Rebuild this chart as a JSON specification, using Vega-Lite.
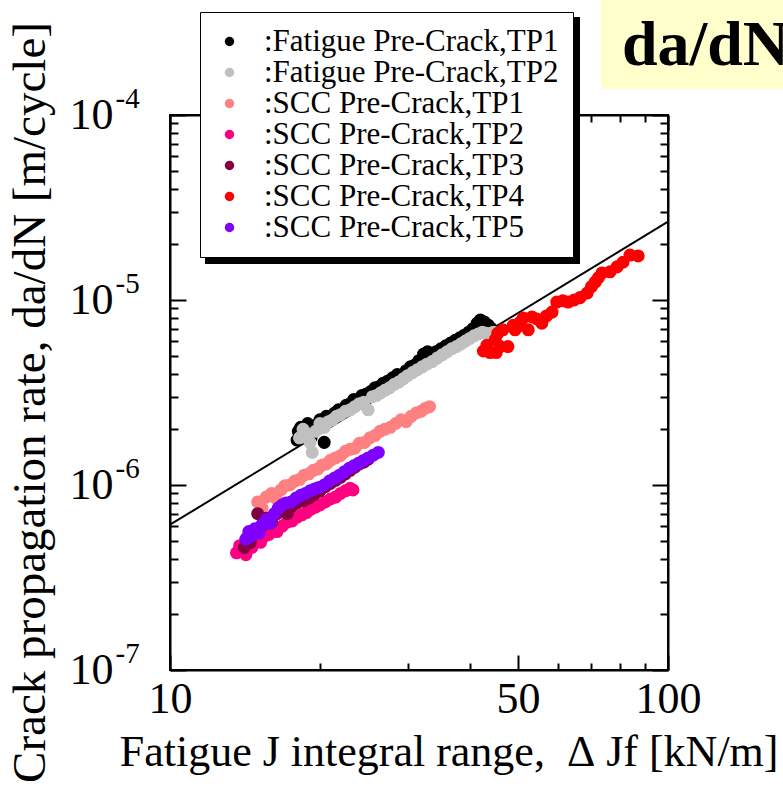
{
  "$schema": "https://vega.github.io/schema/vega-lite/v6.json",
  "width": 498,
  "height": 555,
  "autosize": {"type": "none"},
  "padding": {"left": 170, "top": 115, "right": 115, "bottom": 128},
  "background": "white",
  "config": {
    "view": {"stroke": "black", "strokeWidth": 2},
    "font": "Liberation Serif",
    "axis": {"grid": false, "domainColor": "black", "domainWidth": 2, "tickColor": "black", "tickWidth": 2, "labelColor": "black", "titleColor": "black", "labelFont": "Liberation Serif", "titleFont": "Liberation Serif", "titleFontWeight": "normal", "labelOverlap": false, "labelBound": false, "labelFlush": false},
    "legend": {"labelFont": "Liberation Serif"}
  },
  "datasets": {
    "fit": [{"J": 10, "dadN": 6.1e-7}, {"J": 100, "dadN": 2.65e-5}],
    "pts": [
      {"J": 18.0, "dadN": 1.75e-6, "s": ":Fatigue Pre-Crack,TP1"},
      {"J": 18.1, "dadN": 1.95e-6, "s": ":Fatigue Pre-Crack,TP1"},
      {"J": 18.3, "dadN": 2.05e-6, "s": ":Fatigue Pre-Crack,TP1"},
      {"J": 18.6, "dadN": 1.85e-6, "s": ":Fatigue Pre-Crack,TP1"},
      {"J": 18.9, "dadN": 2.15e-6, "s": ":Fatigue Pre-Crack,TP1"},
      {"J": 19.2, "dadN": 1.80e-6, "s": ":Fatigue Pre-Crack,TP1"},
      {"J": 19.6, "dadN": 2.10e-6, "s": ":Fatigue Pre-Crack,TP1"},
      {"J": 20.0, "dadN": 2.25e-6, "s": ":Fatigue Pre-Crack,TP1"},
      {"J": 20.4, "dadN": 1.70e-6, "s": ":Fatigue Pre-Crack,TP1"},
      {"J": 20.6, "dadN": 2.35e-6, "s": ":Fatigue Pre-Crack,TP1"},
      {"J": 21.0, "dadN": 2.30e-6, "s": ":Fatigue Pre-Crack,TP1"},
      {"J": 21.4, "dadN": 2.45e-6, "s": ":Fatigue Pre-Crack,TP1"},
      {"J": 21.8, "dadN": 2.55e-6, "s": ":Fatigue Pre-Crack,TP1"},
      {"J": 22.2, "dadN": 2.55e-6, "s": ":Fatigue Pre-Crack,TP1"},
      {"J": 22.6, "dadN": 2.70e-6, "s": ":Fatigue Pre-Crack,TP1"},
      {"J": 23.0, "dadN": 2.75e-6, "s": ":Fatigue Pre-Crack,TP1"},
      {"J": 23.4, "dadN": 2.90e-6, "s": ":Fatigue Pre-Crack,TP1"},
      {"J": 23.8, "dadN": 2.85e-6, "s": ":Fatigue Pre-Crack,TP1"},
      {"J": 24.3, "dadN": 3.05e-6, "s": ":Fatigue Pre-Crack,TP1"},
      {"J": 24.8, "dadN": 3.10e-6, "s": ":Fatigue Pre-Crack,TP1"},
      {"J": 25.3, "dadN": 3.20e-6, "s": ":Fatigue Pre-Crack,TP1"},
      {"J": 25.8, "dadN": 3.35e-6, "s": ":Fatigue Pre-Crack,TP1"},
      {"J": 26.3, "dadN": 3.40e-6, "s": ":Fatigue Pre-Crack,TP1"},
      {"J": 26.8, "dadN": 3.55e-6, "s": ":Fatigue Pre-Crack,TP1"},
      {"J": 27.4, "dadN": 3.65e-6, "s": ":Fatigue Pre-Crack,TP1"},
      {"J": 28.0, "dadN": 3.80e-6, "s": ":Fatigue Pre-Crack,TP1"},
      {"J": 28.6, "dadN": 3.95e-6, "s": ":Fatigue Pre-Crack,TP1"},
      {"J": 29.2, "dadN": 3.90e-6, "s": ":Fatigue Pre-Crack,TP1"},
      {"J": 29.8, "dadN": 4.15e-6, "s": ":Fatigue Pre-Crack,TP1"},
      {"J": 30.4, "dadN": 4.35e-6, "s": ":Fatigue Pre-Crack,TP1"},
      {"J": 31.0, "dadN": 4.45e-6, "s": ":Fatigue Pre-Crack,TP1"},
      {"J": 31.6, "dadN": 4.70e-6, "s": ":Fatigue Pre-Crack,TP1"},
      {"J": 32.3, "dadN": 5.10e-6, "s": ":Fatigue Pre-Crack,TP1"},
      {"J": 32.9, "dadN": 5.25e-6, "s": ":Fatigue Pre-Crack,TP1"},
      {"J": 33.5, "dadN": 5.15e-6, "s": ":Fatigue Pre-Crack,TP1"},
      {"J": 34.2, "dadN": 5.25e-6, "s": ":Fatigue Pre-Crack,TP1"},
      {"J": 35.0, "dadN": 5.45e-6, "s": ":Fatigue Pre-Crack,TP1"},
      {"J": 35.8, "dadN": 5.65e-6, "s": ":Fatigue Pre-Crack,TP1"},
      {"J": 36.6, "dadN": 5.85e-6, "s": ":Fatigue Pre-Crack,TP1"},
      {"J": 37.4, "dadN": 6.05e-6, "s": ":Fatigue Pre-Crack,TP1"},
      {"J": 38.2, "dadN": 6.25e-6, "s": ":Fatigue Pre-Crack,TP1"},
      {"J": 39.0, "dadN": 6.45e-6, "s": ":Fatigue Pre-Crack,TP1"},
      {"J": 39.8, "dadN": 6.70e-6, "s": ":Fatigue Pre-Crack,TP1"},
      {"J": 40.6, "dadN": 7.00e-6, "s": ":Fatigue Pre-Crack,TP1"},
      {"J": 41.4, "dadN": 7.50e-6, "s": ":Fatigue Pre-Crack,TP1"},
      {"J": 42.0, "dadN": 7.80e-6, "s": ":Fatigue Pre-Crack,TP1"},
      {"J": 42.8, "dadN": 7.60e-6, "s": ":Fatigue Pre-Crack,TP1"},
      {"J": 43.6, "dadN": 7.30e-6, "s": ":Fatigue Pre-Crack,TP1"},
      {"J": 44.2, "dadN": 7.00e-6, "s": ":Fatigue Pre-Crack,TP1"},
      {"J": 18.2, "dadN": 1.80e-6, "s": ":Fatigue Pre-Crack,TP2"},
      {"J": 18.5, "dadN": 2.00e-6, "s": ":Fatigue Pre-Crack,TP2"},
      {"J": 18.8, "dadN": 1.90e-6, "s": ":Fatigue Pre-Crack,TP2"},
      {"J": 19.1, "dadN": 1.70e-6, "s": ":Fatigue Pre-Crack,TP2"},
      {"J": 19.3, "dadN": 1.50e-6, "s": ":Fatigue Pre-Crack,TP2"},
      {"J": 19.6, "dadN": 1.95e-6, "s": ":Fatigue Pre-Crack,TP2"},
      {"J": 20.0, "dadN": 2.15e-6, "s": ":Fatigue Pre-Crack,TP2"},
      {"J": 20.4, "dadN": 2.05e-6, "s": ":Fatigue Pre-Crack,TP2"},
      {"J": 20.8, "dadN": 2.20e-6, "s": ":Fatigue Pre-Crack,TP2"},
      {"J": 21.2, "dadN": 2.25e-6, "s": ":Fatigue Pre-Crack,TP2"},
      {"J": 21.6, "dadN": 2.35e-6, "s": ":Fatigue Pre-Crack,TP2"},
      {"J": 22.0, "dadN": 2.40e-6, "s": ":Fatigue Pre-Crack,TP2"},
      {"J": 22.5, "dadN": 2.50e-6, "s": ":Fatigue Pre-Crack,TP2"},
      {"J": 23.0, "dadN": 2.55e-6, "s": ":Fatigue Pre-Crack,TP2"},
      {"J": 23.5, "dadN": 2.65e-6, "s": ":Fatigue Pre-Crack,TP2"},
      {"J": 24.0, "dadN": 2.75e-6, "s": ":Fatigue Pre-Crack,TP2"},
      {"J": 24.5, "dadN": 2.80e-6, "s": ":Fatigue Pre-Crack,TP2"},
      {"J": 25.0, "dadN": 2.55e-6, "s": ":Fatigue Pre-Crack,TP2"},
      {"J": 25.5, "dadN": 3.00e-6, "s": ":Fatigue Pre-Crack,TP2"},
      {"J": 26.0, "dadN": 3.05e-6, "s": ":Fatigue Pre-Crack,TP2"},
      {"J": 26.5, "dadN": 3.15e-6, "s": ":Fatigue Pre-Crack,TP2"},
      {"J": 27.0, "dadN": 3.25e-6, "s": ":Fatigue Pre-Crack,TP2"},
      {"J": 27.6, "dadN": 3.35e-6, "s": ":Fatigue Pre-Crack,TP2"},
      {"J": 28.2, "dadN": 3.50e-6, "s": ":Fatigue Pre-Crack,TP2"},
      {"J": 28.8, "dadN": 3.60e-6, "s": ":Fatigue Pre-Crack,TP2"},
      {"J": 29.4, "dadN": 3.75e-6, "s": ":Fatigue Pre-Crack,TP2"},
      {"J": 30.0, "dadN": 3.90e-6, "s": ":Fatigue Pre-Crack,TP2"},
      {"J": 30.7, "dadN": 4.05e-6, "s": ":Fatigue Pre-Crack,TP2"},
      {"J": 31.4, "dadN": 4.20e-6, "s": ":Fatigue Pre-Crack,TP2"},
      {"J": 32.1, "dadN": 4.35e-6, "s": ":Fatigue Pre-Crack,TP2"},
      {"J": 32.8, "dadN": 4.50e-6, "s": ":Fatigue Pre-Crack,TP2"},
      {"J": 33.6, "dadN": 4.65e-6, "s": ":Fatigue Pre-Crack,TP2"},
      {"J": 34.4, "dadN": 4.85e-6, "s": ":Fatigue Pre-Crack,TP2"},
      {"J": 35.2, "dadN": 5.05e-6, "s": ":Fatigue Pre-Crack,TP2"},
      {"J": 36.0, "dadN": 5.25e-6, "s": ":Fatigue Pre-Crack,TP2"},
      {"J": 36.8, "dadN": 5.45e-6, "s": ":Fatigue Pre-Crack,TP2"},
      {"J": 37.6, "dadN": 5.60e-6, "s": ":Fatigue Pre-Crack,TP2"},
      {"J": 38.4, "dadN": 5.80e-6, "s": ":Fatigue Pre-Crack,TP2"},
      {"J": 39.2, "dadN": 6.00e-6, "s": ":Fatigue Pre-Crack,TP2"},
      {"J": 40.0, "dadN": 6.20e-6, "s": ":Fatigue Pre-Crack,TP2"},
      {"J": 40.8, "dadN": 6.40e-6, "s": ":Fatigue Pre-Crack,TP2"},
      {"J": 41.6, "dadN": 6.55e-6, "s": ":Fatigue Pre-Crack,TP2"},
      {"J": 42.4, "dadN": 6.70e-6, "s": ":Fatigue Pre-Crack,TP2"},
      {"J": 43.2, "dadN": 6.60e-6, "s": ":Fatigue Pre-Crack,TP2"},
      {"J": 44.0, "dadN": 6.30e-6, "s": ":Fatigue Pre-Crack,TP2"},
      {"J": 44.6, "dadN": 6.70e-6, "s": ":Fatigue Pre-Crack,TP2"},
      {"J": 15.0, "dadN": 8.1e-7, "s": ":SCC Pre-Crack,TP1"},
      {"J": 15.3, "dadN": 7.5e-7, "s": ":SCC Pre-Crack,TP1"},
      {"J": 15.6, "dadN": 8.6e-7, "s": ":SCC Pre-Crack,TP1"},
      {"J": 16.0, "dadN": 9.0e-7, "s": ":SCC Pre-Crack,TP1"},
      {"J": 16.3, "dadN": 8.5e-7, "s": ":SCC Pre-Crack,TP1"},
      {"J": 16.7, "dadN": 9.4e-7, "s": ":SCC Pre-Crack,TP1"},
      {"J": 17.0, "dadN": 9.9e-7, "s": ":SCC Pre-Crack,TP1"},
      {"J": 17.4, "dadN": 1.00e-6, "s": ":SCC Pre-Crack,TP1"},
      {"J": 17.8, "dadN": 1.05e-6, "s": ":SCC Pre-Crack,TP1"},
      {"J": 18.2, "dadN": 1.07e-6, "s": ":SCC Pre-Crack,TP1"},
      {"J": 18.6, "dadN": 1.13e-6, "s": ":SCC Pre-Crack,TP1"},
      {"J": 19.0, "dadN": 1.15e-6, "s": ":SCC Pre-Crack,TP1"},
      {"J": 19.4, "dadN": 1.20e-6, "s": ":SCC Pre-Crack,TP1"},
      {"J": 19.8, "dadN": 1.22e-6, "s": ":SCC Pre-Crack,TP1"},
      {"J": 20.2, "dadN": 1.28e-6, "s": ":SCC Pre-Crack,TP1"},
      {"J": 20.6, "dadN": 1.30e-6, "s": ":SCC Pre-Crack,TP1"},
      {"J": 21.0, "dadN": 1.36e-6, "s": ":SCC Pre-Crack,TP1"},
      {"J": 21.5, "dadN": 1.40e-6, "s": ":SCC Pre-Crack,TP1"},
      {"J": 22.0, "dadN": 1.44e-6, "s": ":SCC Pre-Crack,TP1"},
      {"J": 22.5, "dadN": 1.52e-6, "s": ":SCC Pre-Crack,TP1"},
      {"J": 23.0, "dadN": 1.56e-6, "s": ":SCC Pre-Crack,TP1"},
      {"J": 23.5, "dadN": 1.58e-6, "s": ":SCC Pre-Crack,TP1"},
      {"J": 24.0, "dadN": 1.68e-6, "s": ":SCC Pre-Crack,TP1"},
      {"J": 24.6, "dadN": 1.70e-6, "s": ":SCC Pre-Crack,TP1"},
      {"J": 25.2, "dadN": 1.80e-6, "s": ":SCC Pre-Crack,TP1"},
      {"J": 25.8, "dadN": 1.85e-6, "s": ":SCC Pre-Crack,TP1"},
      {"J": 26.4, "dadN": 1.95e-6, "s": ":SCC Pre-Crack,TP1"},
      {"J": 27.0, "dadN": 2.00e-6, "s": ":SCC Pre-Crack,TP1"},
      {"J": 27.7, "dadN": 2.05e-6, "s": ":SCC Pre-Crack,TP1"},
      {"J": 28.4, "dadN": 2.15e-6, "s": ":SCC Pre-Crack,TP1"},
      {"J": 29.1, "dadN": 2.25e-6, "s": ":SCC Pre-Crack,TP1"},
      {"J": 29.8, "dadN": 2.20e-6, "s": ":SCC Pre-Crack,TP1"},
      {"J": 30.5, "dadN": 2.35e-6, "s": ":SCC Pre-Crack,TP1"},
      {"J": 31.2, "dadN": 2.45e-6, "s": ":SCC Pre-Crack,TP1"},
      {"J": 31.9, "dadN": 2.50e-6, "s": ":SCC Pre-Crack,TP1"},
      {"J": 32.6, "dadN": 2.60e-6, "s": ":SCC Pre-Crack,TP1"},
      {"J": 33.2, "dadN": 2.65e-6, "s": ":SCC Pre-Crack,TP1"},
      {"J": 13.6, "dadN": 4.3e-7, "s": ":SCC Pre-Crack,TP2"},
      {"J": 13.8, "dadN": 4.7e-7, "s": ":SCC Pre-Crack,TP2"},
      {"J": 14.0, "dadN": 4.5e-7, "s": ":SCC Pre-Crack,TP2"},
      {"J": 14.2, "dadN": 4.2e-7, "s": ":SCC Pre-Crack,TP2"},
      {"J": 14.4, "dadN": 4.8e-7, "s": ":SCC Pre-Crack,TP2"},
      {"J": 14.6, "dadN": 4.6e-7, "s": ":SCC Pre-Crack,TP2"},
      {"J": 14.9, "dadN": 5.0e-7, "s": ":SCC Pre-Crack,TP2"},
      {"J": 15.2, "dadN": 4.9e-7, "s": ":SCC Pre-Crack,TP2"},
      {"J": 15.5, "dadN": 5.3e-7, "s": ":SCC Pre-Crack,TP2"},
      {"J": 15.8, "dadN": 5.4e-7, "s": ":SCC Pre-Crack,TP2"},
      {"J": 16.1, "dadN": 5.7e-7, "s": ":SCC Pre-Crack,TP2"},
      {"J": 16.4, "dadN": 5.6e-7, "s": ":SCC Pre-Crack,TP2"},
      {"J": 16.8, "dadN": 6.0e-7, "s": ":SCC Pre-Crack,TP2"},
      {"J": 17.2, "dadN": 6.3e-7, "s": ":SCC Pre-Crack,TP2"},
      {"J": 17.6, "dadN": 6.4e-7, "s": ":SCC Pre-Crack,TP2"},
      {"J": 18.0, "dadN": 6.7e-7, "s": ":SCC Pre-Crack,TP2"},
      {"J": 18.4, "dadN": 6.9e-7, "s": ":SCC Pre-Crack,TP2"},
      {"J": 18.8, "dadN": 7.1e-7, "s": ":SCC Pre-Crack,TP2"},
      {"J": 19.2, "dadN": 7.4e-7, "s": ":SCC Pre-Crack,TP2"},
      {"J": 19.6, "dadN": 7.6e-7, "s": ":SCC Pre-Crack,TP2"},
      {"J": 20.0, "dadN": 7.8e-7, "s": ":SCC Pre-Crack,TP2"},
      {"J": 20.5, "dadN": 8.1e-7, "s": ":SCC Pre-Crack,TP2"},
      {"J": 21.0, "dadN": 8.4e-7, "s": ":SCC Pre-Crack,TP2"},
      {"J": 21.5, "dadN": 8.6e-7, "s": ":SCC Pre-Crack,TP2"},
      {"J": 22.0, "dadN": 9.0e-7, "s": ":SCC Pre-Crack,TP2"},
      {"J": 22.5, "dadN": 9.3e-7, "s": ":SCC Pre-Crack,TP2"},
      {"J": 23.0, "dadN": 9.6e-7, "s": ":SCC Pre-Crack,TP2"},
      {"J": 23.3, "dadN": 9.4e-7, "s": ":SCC Pre-Crack,TP2"},
      {"J": 14.1, "dadN": 4.6e-7, "s": ":SCC Pre-Crack,TP3"},
      {"J": 14.3, "dadN": 5.2e-7, "s": ":SCC Pre-Crack,TP3"},
      {"J": 14.5, "dadN": 4.9e-7, "s": ":SCC Pre-Crack,TP3"},
      {"J": 14.8, "dadN": 5.6e-7, "s": ":SCC Pre-Crack,TP3"},
      {"J": 15.0, "dadN": 7.0e-7, "s": ":SCC Pre-Crack,TP3"},
      {"J": 15.3, "dadN": 6.0e-7, "s": ":SCC Pre-Crack,TP3"},
      {"J": 15.6, "dadN": 6.6e-7, "s": ":SCC Pre-Crack,TP3"},
      {"J": 16.0, "dadN": 6.3e-7, "s": ":SCC Pre-Crack,TP3"},
      {"J": 16.4, "dadN": 7.0e-7, "s": ":SCC Pre-Crack,TP3"},
      {"J": 16.8, "dadN": 7.3e-7, "s": ":SCC Pre-Crack,TP3"},
      {"J": 17.2, "dadN": 7.0e-7, "s": ":SCC Pre-Crack,TP3"},
      {"J": 17.6, "dadN": 7.7e-7, "s": ":SCC Pre-Crack,TP3"},
      {"J": 18.0, "dadN": 8.0e-7, "s": ":SCC Pre-Crack,TP3"},
      {"J": 18.5, "dadN": 8.2e-7, "s": ":SCC Pre-Crack,TP3"},
      {"J": 19.0, "dadN": 8.5e-7, "s": ":SCC Pre-Crack,TP3"},
      {"J": 19.5, "dadN": 8.9e-7, "s": ":SCC Pre-Crack,TP3"},
      {"J": 20.0, "dadN": 9.3e-7, "s": ":SCC Pre-Crack,TP3"},
      {"J": 20.5, "dadN": 9.8e-7, "s": ":SCC Pre-Crack,TP3"},
      {"J": 21.0, "dadN": 1.02e-6, "s": ":SCC Pre-Crack,TP3"},
      {"J": 21.5, "dadN": 1.06e-6, "s": ":SCC Pre-Crack,TP3"},
      {"J": 22.0, "dadN": 1.10e-6, "s": ":SCC Pre-Crack,TP3"},
      {"J": 22.5, "dadN": 1.15e-6, "s": ":SCC Pre-Crack,TP3"},
      {"J": 23.0, "dadN": 1.20e-6, "s": ":SCC Pre-Crack,TP3"},
      {"J": 23.5, "dadN": 1.25e-6, "s": ":SCC Pre-Crack,TP3"},
      {"J": 24.0, "dadN": 1.30e-6, "s": ":SCC Pre-Crack,TP3"},
      {"J": 24.5, "dadN": 1.33e-6, "s": ":SCC Pre-Crack,TP3"},
      {"J": 25.0, "dadN": 1.38e-6, "s": ":SCC Pre-Crack,TP3"},
      {"J": 42.6, "dadN": 5.3e-6, "s": ":SCC Pre-Crack,TP4"},
      {"J": 43.3, "dadN": 5.7e-6, "s": ":SCC Pre-Crack,TP4"},
      {"J": 43.9, "dadN": 5.2e-6, "s": ":SCC Pre-Crack,TP4"},
      {"J": 45.0, "dadN": 6.1e-6, "s": ":SCC Pre-Crack,TP4"},
      {"J": 45.2, "dadN": 5.2e-6, "s": ":SCC Pre-Crack,TP4"},
      {"J": 45.5, "dadN": 6.6e-6, "s": ":SCC Pre-Crack,TP4"},
      {"J": 46.0, "dadN": 5.6e-6, "s": ":SCC Pre-Crack,TP4"},
      {"J": 46.6, "dadN": 6.9e-6, "s": ":SCC Pre-Crack,TP4"},
      {"J": 47.7, "dadN": 5.6e-6, "s": ":SCC Pre-Crack,TP4"},
      {"J": 48.9, "dadN": 7.3e-6, "s": ":SCC Pre-Crack,TP4"},
      {"J": 49.3, "dadN": 6.9e-6, "s": ":SCC Pre-Crack,TP4"},
      {"J": 50.0, "dadN": 7.2e-6, "s": ":SCC Pre-Crack,TP4"},
      {"J": 50.5, "dadN": 7.6e-6, "s": ":SCC Pre-Crack,TP4"},
      {"J": 51.2, "dadN": 8.0e-6, "s": ":SCC Pre-Crack,TP4"},
      {"J": 52.4, "dadN": 6.9e-6, "s": ":SCC Pre-Crack,TP4"},
      {"J": 53.3, "dadN": 8.1e-6, "s": ":SCC Pre-Crack,TP4"},
      {"J": 54.5, "dadN": 7.9e-6, "s": ":SCC Pre-Crack,TP4"},
      {"J": 55.8, "dadN": 7.5e-6, "s": ":SCC Pre-Crack,TP4"},
      {"J": 57.0, "dadN": 8.2e-6, "s": ":SCC Pre-Crack,TP4"},
      {"J": 58.5, "dadN": 8.6e-6, "s": ":SCC Pre-Crack,TP4"},
      {"J": 59.8, "dadN": 9.75e-6, "s": ":SCC Pre-Crack,TP4"},
      {"J": 61.5, "dadN": 9.9e-6, "s": ":SCC Pre-Crack,TP4"},
      {"J": 63.0, "dadN": 9.75e-6, "s": ":SCC Pre-Crack,TP4"},
      {"J": 64.8, "dadN": 1.0e-5, "s": ":SCC Pre-Crack,TP4"},
      {"J": 66.6, "dadN": 1.03e-5, "s": ":SCC Pre-Crack,TP4"},
      {"J": 68.8, "dadN": 1.09e-5, "s": ":SCC Pre-Crack,TP4"},
      {"J": 70.2, "dadN": 1.18e-5, "s": ":SCC Pre-Crack,TP4"},
      {"J": 71.4, "dadN": 1.25e-5, "s": ":SCC Pre-Crack,TP4"},
      {"J": 72.5, "dadN": 1.32e-5, "s": ":SCC Pre-Crack,TP4"},
      {"J": 73.7, "dadN": 1.40e-5, "s": ":SCC Pre-Crack,TP4"},
      {"J": 76.5, "dadN": 1.42e-5, "s": ":SCC Pre-Crack,TP4"},
      {"J": 79.0, "dadN": 1.51e-5, "s": ":SCC Pre-Crack,TP4"},
      {"J": 81.2, "dadN": 1.60e-5, "s": ":SCC Pre-Crack,TP4"},
      {"J": 83.9, "dadN": 1.75e-5, "s": ":SCC Pre-Crack,TP4"},
      {"J": 87.1, "dadN": 1.73e-5, "s": ":SCC Pre-Crack,TP4"},
      {"J": 14.2, "dadN": 5.1e-7, "s": ":SCC Pre-Crack,TP5"},
      {"J": 14.4, "dadN": 5.6e-7, "s": ":SCC Pre-Crack,TP5"},
      {"J": 14.6, "dadN": 5.3e-7, "s": ":SCC Pre-Crack,TP5"},
      {"J": 14.8, "dadN": 5.8e-7, "s": ":SCC Pre-Crack,TP5"},
      {"J": 15.1, "dadN": 5.5e-7, "s": ":SCC Pre-Crack,TP5"},
      {"J": 15.3, "dadN": 6.1e-7, "s": ":SCC Pre-Crack,TP5"},
      {"J": 15.6, "dadN": 6.5e-7, "s": ":SCC Pre-Crack,TP5"},
      {"J": 15.9, "dadN": 6.2e-7, "s": ":SCC Pre-Crack,TP5"},
      {"J": 16.2, "dadN": 7.0e-7, "s": ":SCC Pre-Crack,TP5"},
      {"J": 16.5, "dadN": 7.5e-7, "s": ":SCC Pre-Crack,TP5"},
      {"J": 16.8, "dadN": 7.8e-7, "s": ":SCC Pre-Crack,TP5"},
      {"J": 17.1, "dadN": 8.0e-7, "s": ":SCC Pre-Crack,TP5"},
      {"J": 17.5, "dadN": 8.1e-7, "s": ":SCC Pre-Crack,TP5"},
      {"J": 17.9, "dadN": 8.5e-7, "s": ":SCC Pre-Crack,TP5"},
      {"J": 18.3, "dadN": 8.8e-7, "s": ":SCC Pre-Crack,TP5"},
      {"J": 18.7, "dadN": 9.0e-7, "s": ":SCC Pre-Crack,TP5"},
      {"J": 19.1, "dadN": 9.3e-7, "s": ":SCC Pre-Crack,TP5"},
      {"J": 19.5, "dadN": 9.5e-7, "s": ":SCC Pre-Crack,TP5"},
      {"J": 19.9, "dadN": 9.7e-7, "s": ":SCC Pre-Crack,TP5"},
      {"J": 20.4, "dadN": 1.00e-6, "s": ":SCC Pre-Crack,TP5"},
      {"J": 20.9, "dadN": 1.05e-6, "s": ":SCC Pre-Crack,TP5"},
      {"J": 21.4, "dadN": 1.09e-6, "s": ":SCC Pre-Crack,TP5"},
      {"J": 21.9, "dadN": 1.13e-6, "s": ":SCC Pre-Crack,TP5"},
      {"J": 22.4, "dadN": 1.18e-6, "s": ":SCC Pre-Crack,TP5"},
      {"J": 22.9, "dadN": 1.23e-6, "s": ":SCC Pre-Crack,TP5"},
      {"J": 23.4, "dadN": 1.27e-6, "s": ":SCC Pre-Crack,TP5"},
      {"J": 23.9, "dadN": 1.31e-6, "s": ":SCC Pre-Crack,TP5"},
      {"J": 24.4, "dadN": 1.35e-6, "s": ":SCC Pre-Crack,TP5"},
      {"J": 25.0, "dadN": 1.40e-6, "s": ":SCC Pre-Crack,TP5"},
      {"J": 25.6, "dadN": 1.45e-6, "s": ":SCC Pre-Crack,TP5"},
      {"J": 26.2, "dadN": 1.50e-6, "s": ":SCC Pre-Crack,TP5"}
    ]
  },
  "layer": [
    {
      "data": {"name": "pts"},
      "mark": {"type": "circle", "opacity": 0},
      "encoding": {
        "x": {"field": "J", "type": "quantitative", "scale": {"type": "log", "domain": [10, 100], "nice": false}, "axis": null},
        "y": {"field": "dadN", "type": "quantitative", "scale": {"type": "log", "domain": [1e-7, 1e-4], "nice": false},
          "axis": {"orient": "left", "values": [1e-7, 1e-6, 1e-5, 1e-4], "ticks": false, "domain": false, "title": null,
            "labelExpr": "'10'", "labelAlign": "right", "labelBaseline": "alphabetic", "labelOffset": 13, "labelPadding": 57, "labelFontSize": 44}},
        "color": {
          "field": "s", "type": "nominal",
          "scale": {"domain": [":Fatigue Pre-Crack,TP1", ":Fatigue Pre-Crack,TP2", ":SCC Pre-Crack,TP1", ":SCC Pre-Crack,TP2", ":SCC Pre-Crack,TP3", ":SCC Pre-Crack,TP4", ":SCC Pre-Crack,TP5"], "range": ["black", "black", "black", "black", "black", "black", "black"]},
          "legend": {"orient": "none", "legendX": 36, "legendY": -97, "title": null, "fillColor": "black", "strokeColor": "black", "padding": 14, "symbolType": "circle", "symbolSize": 90, "symbolOffset": 0, "labelOffset": 19, "labelFontSize": 31, "labelFont": "Liberation Serif", "labelColor": "black", "labelOpacity": 0, "labelLimit": 600, "rowPadding": -1,
            "encode": {"legend": {"update": {"strokeWidth": {"value": 2}}}}}
        }
      }
    },
    {
      "data": {"name": "fit"},
      "mark": {"type": "line", "color": "black", "strokeWidth": 2},
      "encoding": {
        "x": {"field": "J", "type": "quantitative", "scale": {"type": "log", "domain": [10, 100], "nice": false},
          "axis": {"orient": "top", "values": [10, 20, 30, 40, 50, 60, 70, 80, 90, 100], "labels": false, "title": null,
            "tickSize": {"condition": {"test": "datum.value == 10 || datum.value == 50 || datum.value == 100", "value": -15}, "value": -7}}},
        "y": {"field": "dadN", "type": "quantitative", "scale": {"type": "log", "domain": [1e-7, 1e-4], "nice": false},
          "axis": {"orient": "right", "values": [1e-7, 2e-7, 3e-7, 4e-7, 5e-7, 6e-7, 7e-7, 8e-7, 9e-7, 1e-6, 2e-6, 3e-6, 4e-6, 5e-6, 6e-6, 7e-6, 8e-6, 9e-6, 1e-5, 2e-5, 3e-5, 4e-5, 5e-5, 6e-5, 7e-5, 8e-5, 9e-5, 1e-4], "labels": false, "title": null,
            "tickSize": {"condition": {"test": "abs(log(datum.value)/LN10 - round(log(datum.value)/LN10)) < 0.001", "value": -16}, "value": -8}}}
      }
    },
    {
      "data": {"name": "pts"},
      "mark": {"type": "circle", "size": 170, "opacity": 1},
      "encoding": {
        "x": {"field": "J", "type": "quantitative", "scale": {"type": "log", "domain": [10, 100], "nice": false},
          "axis": {"orient": "bottom", "values": [10, 20, 30, 40, 50, 60, 70, 80, 90, 100],
            "labelExpr": "datum.value == 10 || datum.value == 50 || datum.value == 100 ? '' + datum.value : ''",
            "tickSize": {"condition": {"test": "datum.value == 10 || datum.value == 50 || datum.value == 100", "value": -15}, "value": -7},
            "labelPadding": 22, "labelFontSize": 44,
            "title": "Fatigue J integral range,\u00a0\u00a0Δ\u00a0Jf\u00a0[kN/m]", "titleFontSize": 44, "titleX": 608, "titleY": 95, "titleAlign": "right", "titleBaseline": "alphabetic", "titleAngle": 0}},
        "y": {"field": "dadN", "type": "quantitative", "scale": {"type": "log", "domain": [1e-7, 1e-4], "nice": false},
          "axis": {"orient": "left", "values": [1e-7, 2e-7, 3e-7, 4e-7, 5e-7, 6e-7, 7e-7, 8e-7, 9e-7, 1e-6, 2e-6, 3e-6, 4e-6, 5e-6, 6e-6, 7e-6, 8e-6, 9e-6, 1e-5, 2e-5, 3e-5, 4e-5, 5e-5, 6e-5, 7e-5, 8e-5, 9e-5, 1e-4],
            "labels": false,
            "tickSize": {"condition": {"test": "abs(log(datum.value)/LN10 - round(log(datum.value)/LN10)) < 0.001", "value": -16}, "value": -8},
            "title": "Crack propagation rate, da/dN [m/cycle]", "titleFontSize": 47, "titleX": -140, "titleY": 287, "titleAngle": -90, "titleAlign": "center", "titleBaseline": "middle"}},
        "color": {
          "field": "s", "type": "nominal",
          "scale": {"domain": [":Fatigue Pre-Crack,TP1", ":Fatigue Pre-Crack,TP2", ":SCC Pre-Crack,TP1", ":SCC Pre-Crack,TP2", ":SCC Pre-Crack,TP3", ":SCC Pre-Crack,TP4", ":SCC Pre-Crack,TP5"], "range": ["#000000", "#c0c0c0", "#ff8080", "#ff0080", "#800040", "#ff0000", "#8000ff"]},
          "legend": {"orient": "none", "legendX": 30, "legendY": -103, "title": null, "fillColor": "white", "strokeColor": "black", "padding": 14, "symbolType": "circle", "symbolSize": 90, "symbolOffset": 0, "labelOffset": 19, "labelFontSize": 31, "labelFont": "Liberation Serif", "labelColor": "black", "labelLimit": 600, "rowPadding": -1,
            "encode": {"legend": {"update": {"strokeWidth": {"value": 2}}}}}
        }
      }
    },
    {
      "data": {"values": [{}]},
      "mark": {"type": "rect", "color": "#ffffcc"},
      "encoding": {
        "x": {"datum": 73.4, "type": "quantitative", "axis": null},
        "x2": {"datum": 200},
        "y": {"datum": 1.38e-4, "type": "quantitative",
          "axis": {"orient": "left", "values": [1e-7, 1e-6, 1e-5, 1e-4], "ticks": false, "domain": false, "title": null,
            "labelExpr": "['-7','-6','-5','-4'][round(log(datum.value)/LN10) + 7]", "labelAlign": "left", "labelBaseline": "alphabetic", "labelOffset": -8, "labelPadding": 55, "labelFontSize": 29}},
        "y2": {"datum": 1e-3}
      }
    },
    {
      "data": {"values": [{"label": "da/dN"}]},
      "mark": {"type": "text", "align": "left", "baseline": "alphabetic", "font": "Liberation Serif", "fontSize": 64, "fontWeight": "bold", "color": "black"},
      "encoding": {
        "x": {"datum": 80.8, "type": "quantitative", "axis": null},
        "y": {"datum": 1.86e-4, "type": "quantitative", "axis": null},
        "text": {"field": "label"}
      }
    }
  ],
  "resolve": {"scale": {"color": "independent"}, "axis": {"x": "independent", "y": "independent"}}
}
